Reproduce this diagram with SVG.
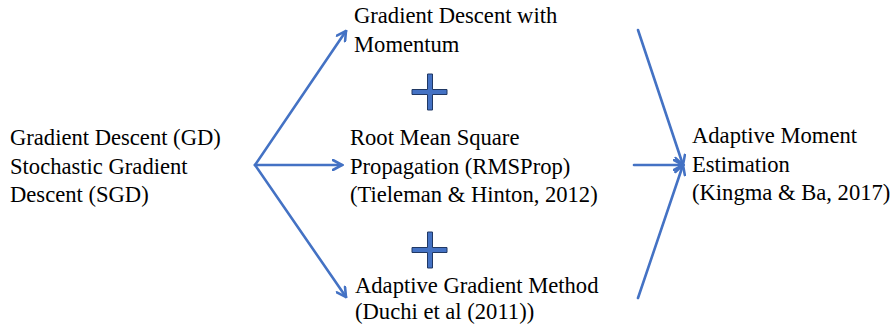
<svg xmlns="http://www.w3.org/2000/svg" width="895" height="324" viewBox="0 0 895 324">
<style>
text{font-family:"Liberation Serif","Times New Roman",serif;font-size:22.6px;fill:#000}
.c{stroke:#4472C4;stroke-width:2.6;fill:none;stroke-linecap:round}
.plus{fill:#4472C4;stroke:#203864;stroke-width:1}
</style>
<defs>
<marker id="ah" viewBox="0 0 12 12" refX="10.5" refY="6" markerWidth="12" markerHeight="12" markerUnits="userSpaceOnUse" orient="auto">
<path d="M1.5,1 L10.5,6 L1.5,11" fill="none" stroke="#4472C4" stroke-width="2.6" stroke-linecap="round" stroke-linejoin="miter"/>
</marker>
</defs>
<rect width="895" height="324" fill="#fff"/>
<g id="connectors">
<path class="c" d="M255,165 L346,31" marker-end="url(#ah)"/>
<path class="c" d="M255,165 L342,165" marker-end="url(#ah)"/>
<path class="c" d="M255,165 L346,297" marker-end="url(#ah)"/>
<path class="c" d="M638,30 L683,165" marker-end="url(#ah)"/>
<path class="c" d="M634,165 L683,165" marker-end="url(#ah)"/>
<path class="c" d="M638,298 L683,165" marker-end="url(#ah)"/>
</g>
<g id="node-gd">
<text x="10" y="145">Gradient Descent (GD)</text>
<text x="10" y="173.5">Stochastic Gradient</text>
<text x="10" y="202">Descent (SGD)</text>
</g>
<g id="node-momentum">
<text x="354" y="23">Gradient Descent with</text>
<text x="354" y="52">Momentum</text>
</g>
<g id="plus-1">
<path class="plus" d="M427.5,74 H432.5 V89.5 H447 V94.5 H432.5 V110 H427.5 V94.5 H412 V89.5 H427.5 Z"/>
</g>
<g id="node-rmsprop">
<text x="350" y="145">Root Mean Square</text>
<text x="350" y="173.5">Propagation (RMSProp)</text>
<text x="350" y="202">(Tieleman &amp; Hinton, 2012)</text>
</g>
<g id="plus-2">
<path class="plus" d="M427.5,232 H432.5 V247.5 H447 V252.5 H432.5 V268 H427.5 V252.5 H412 V247.5 H427.5 Z"/>
</g>
<g id="node-adagrad">
<text x="355" y="293">Adaptive Gradient Method</text>
<text x="355" y="319">(Duchi et al (2011))</text>
</g>
<g id="node-adam">
<text x="692" y="143">Adaptive Moment</text>
<text x="692" y="172">Estimation</text>
<text x="692" y="200">(Kingma &amp; Ba, 2017)</text>
</g>
</svg>
